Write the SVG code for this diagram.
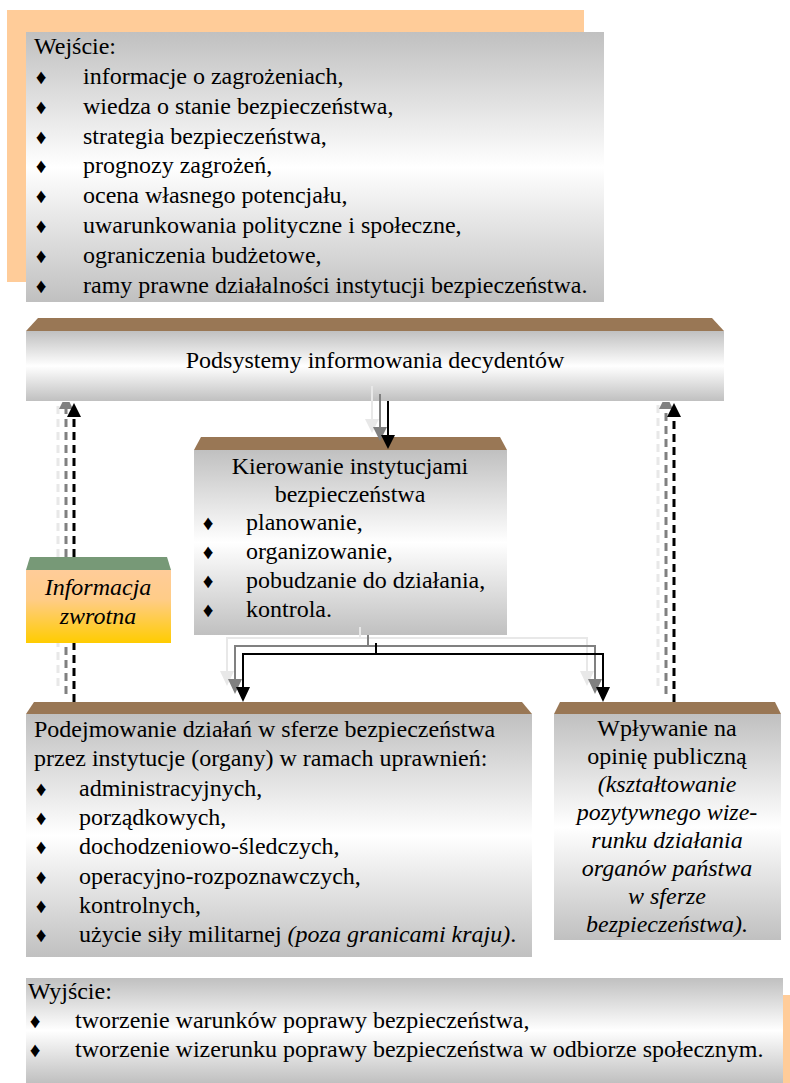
<svg xmlns="http://www.w3.org/2000/svg" width="790" height="1083" viewBox="0 0 790 1083">
<defs>
<linearGradient id="gGray" x1="0" y1="0" x2="0" y2="1">
<stop offset="0" stop-color="#C0C0C0"/>
<stop offset="0.5" stop-color="#FFFFFF"/>
<stop offset="1" stop-color="#C0C0C0"/>
</linearGradient>
<linearGradient id="gGold" x1="0" y1="0" x2="0" y2="1">
<stop offset="0" stop-color="#FFCC99"/>
<stop offset="0.4" stop-color="#FFCC88"/>
<stop offset="1" stop-color="#FFCC00"/>
</linearGradient>
</defs>
<style>
text{font-family:"Liberation Serif","Times New Roman",serif;font-size:24px;fill:#000}
.b{font-size:21px}
.mid{text-anchor:middle}
.it{font-style:italic}
.box{fill:url(#gGray)}
.bevel{fill:#997755}
.peach{fill:#FFCC99}
.ln{fill:none;stroke-width:2}
.dl{fill:none;stroke-width:3;stroke-dasharray:8 5}
.k{stroke:#000}
.g{stroke:#808080}
.l{stroke:#E8E8E8}
.hk{fill:#000}
.hg{fill:#808080}
.hl{fill:#E8E8E8}
</style>

<g id="input">
<rect class="peach" x="7" y="10" width="577" height="272"/>
<rect class="box" x="26" y="32" width="578" height="270"/>
<text x="34" y="54">Wejście:</text>
<text class="b mid" x="41" y="84">♦</text><text x="83" y="84">informacje o zagrożeniach,</text>
<text class="b mid" x="41" y="114">♦</text><text x="83" y="114">wiedza o stanie bezpieczeństwa,</text>
<text class="b mid" x="41" y="144">♦</text><text x="83" y="144">strategia bezpieczeństwa,</text>
<text class="b mid" x="41" y="173">♦</text><text x="83" y="173">prognozy zagrożeń,</text>
<text class="b mid" x="41" y="203">♦</text><text x="83" y="203">ocena własnego potencjału,</text>
<text class="b mid" x="41" y="233">♦</text><text x="83" y="233">uwarunkowania polityczne i społeczne,</text>
<text class="b mid" x="41" y="263">♦</text><text x="83" y="263">ograniczenia budżetowe,</text>
<text class="b mid" x="41" y="293">♦</text><text x="83" y="293">ramy prawne działalności instytucji bezpieczeństwa.</text>
</g>

<g id="podsystemy">
<polygon class="bevel" points="26,331 38,318 712,318 724,331"/>
<rect class="box" x="26" y="331" width="698" height="70"/>
<text class="mid" x="375" y="368">Podsystemy informowania decydentów</text>
</g>

<g id="kierowanie">
<polygon class="bevel" points="194,450 201,437 500,437 507,450"/>
<rect class="box" x="194" y="450" width="313" height="185"/>
<text class="mid" x="350" y="474">Kierowanie instytucjami</text>
<text class="mid" x="350" y="502">bezpieczeństwa</text>
<text class="b mid" x="208" y="530">♦</text><text x="246" y="530">planowanie,</text>
<text class="b mid" x="208" y="559">♦</text><text x="246" y="559">organizowanie,</text>
<text class="b mid" x="208" y="588">♦</text><text x="246" y="588">pobudzanie do działania,</text>
<text class="b mid" x="208" y="617">♦</text><text x="246" y="617">kontrola.</text>
</g>

<g id="informacja-zwrotna">
<polygon fill="#779977" points="26,570 30,557 167,557 171,570"/>
<rect fill="url(#gGold)" x="26" y="570" width="145" height="73"/>
<text class="mid it" x="98" y="595">Informacja</text>
<text class="mid it" x="98" y="624">zwrotna</text>
</g>

<g id="podejmowanie">
<polygon class="bevel" points="26,714 34,702 522,702 532,714"/>
<rect class="box" x="26" y="714" width="506" height="243"/>
<text x="34" y="737">Podejmowanie działań w sferze bezpieczeństwa</text>
<text x="34" y="766">przez instytucje (organy) w ramach uprawnień:</text>
<text class="b mid" x="41" y="796">♦</text><text x="79" y="796">administracyjnych,</text>
<text class="b mid" x="41" y="825">♦</text><text x="79" y="825">porządkowych,</text>
<text class="b mid" x="41" y="854">♦</text><text x="79" y="854">dochodzeniowo-śledczych,</text>
<text class="b mid" x="41" y="884">♦</text><text x="79" y="884">operacyjno-rozpoznawczych,</text>
<text class="b mid" x="41" y="913">♦</text><text x="79" y="913">kontrolnych,</text>
<text class="b mid" x="41" y="942">♦</text><text x="79" y="942">użycie siły militarnej <tspan class="it">(poza granicami kraju)</tspan>.</text>
</g>

<g id="wplywanie">
<polygon class="bevel" points="554,714 560,702 775,702 781,714"/>
<rect class="box" x="554" y="714" width="227" height="226"/>
<text class="mid" x="667" y="736">Wpływanie na</text>
<text class="mid" x="667" y="764">opinię publiczną</text>
<text class="mid it" x="667" y="792">(kształtowanie</text>
<text class="mid it" x="667" y="820">pozytywnego wize-</text>
<text class="mid it" x="667" y="848">runku działania</text>
<text class="mid it" x="667" y="876">organów państwa</text>
<text class="mid it" x="667" y="904">w sferze</text>
<text class="mid it" x="667" y="932">bezpieczeństwa).</text>
</g>

<g id="output">
<rect class="peach" x="783" y="995" width="7" height="88"/>
<rect class="box" x="26" y="978" width="757" height="105"/>
<text x="28" y="999">Wyjście:</text>
<text class="b mid" x="35" y="1028">♦</text><text x="75" y="1028">tworzenie warunków poprawy bezpieczeństwa,</text>
<text class="b mid" x="35" y="1057">♦</text><text x="75" y="1057">tworzenie wizerunku poprawy bezpieczeństwa w odbiorze społecznym.</text>
</g>

<g id="connectors">
<line class="ln l" x1="372" y1="386" x2="372" y2="420"/>
<polygon class="hl" points="365,419 379,419 372,433"/>
<line class="ln g" x1="380" y1="394" x2="380" y2="428"/>
<polygon class="hg" points="373,427 387,427 380,441"/>
<line class="ln k" x1="388" y1="401" x2="388" y2="436"/>
<polygon class="hk" points="381,435 395,435 388,449"/>

<path class="ln l" d="M360,627 V638 M227,672 V638 H587 V672"/>
<polygon class="hl" points="220,671 234,671 227,686"/>
<polygon class="hl" points="580,671 594,671 587,686"/>
<path class="ln g" d="M368,635 V646 M235,680 V646 H595 V680"/>
<polygon class="hg" points="228,679 242,679 235,694"/>
<polygon class="hg" points="588,679 602,679 595,694"/>
<path class="ln k" d="M376,643 V654 M243,688 V654 H603 V688"/>
<polygon class="hk" points="236,687 250,687 243,702"/>
<polygon class="hk" points="596,687 610,687 603,702"/>

<path class="dl l" d="M58,686 V643 M58,557 V402"/>
<path class="dl g" d="M66,694 V643 M66,557 V409"/>
<polygon class="hg" points="59,409 73,409 69.5,402 62.5,402"/>
<path class="dl k" d="M74,702 V643 M74,557 V416"/>
<polygon class="hk" points="67,417 81,417 74,403"/>

<path class="dl l" d="M658,686 V402"/>
<path class="dl g" d="M666,694 V409"/>
<polygon class="hg" points="659,409 673,409 669.5,402 662.5,402"/>
<path class="dl k" d="M674,702 V416"/>
<polygon class="hk" points="667,417 681,417 674,403"/>
</g>
</svg>
